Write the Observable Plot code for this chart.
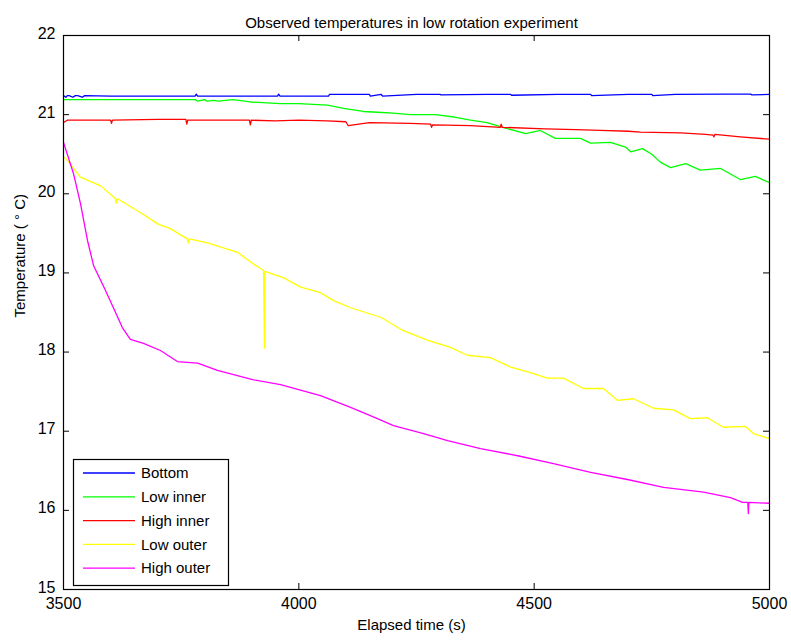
<!DOCTYPE html>
<html><head><meta charset="utf-8">
<script src="https://cdn.jsdelivr.net/npm/d3@7"></script>
<script src="https://cdn.jsdelivr.net/npm/@observablehq/plot@0.6"></script>
<style>
body{margin:0;background:#fff;}
#chart{position:relative;width:791px;height:641px;}
</style></head><body><div id="chart"></div>
<script>
const titleText = "Observed temperatures in low rotation experiment";
const xLabelText = "Elapsed time (s)";
const yLabelText = "Temperature ( \u00B0 C)";
const seriesNames = ["Bottom", "Low inner", "High inner", "Low outer", "High outer"];
const seriesColors = ["#0000ff", "#00ff00", "#ff0000", "#ffff00", "#ff00ff"];
const xTicks = [3500, 4000, 4500, 5000];
const yTicks = [15, 16, 17, 18, 19, 20, 21, 22];

// Bottom
const bottomT = [3500, 3505, 3508, 3512, 3520, 3525, 3530, 3540, 3545, 3600, 3700, 3780, 3782, 3785, 3900, 3955, 3957, 3960, 4063, 4065, 4150, 4152, 4175, 4178, 4250, 4300, 4302, 4400, 4450, 4452, 4550, 4620, 4622, 4700, 4750, 4752, 4800, 4900, 4960, 4962, 5000];
const bottomV = [21.24, 21.22, 21.24, 21.24, 21.22, 21.24, 21.24, 21.22, 21.24, 21.235, 21.235, 21.235, 21.26, 21.235, 21.235, 21.235, 21.26, 21.235, 21.235, 21.255, 21.255, 21.235, 21.255, 21.235, 21.255, 21.255, 21.25, 21.255, 21.255, 21.245, 21.255, 21.255, 21.24, 21.255, 21.255, 21.24, 21.255, 21.26, 21.26, 21.25, 21.255];

// Low inner
const lowInT = [3500, 3600, 3700, 3780, 3785, 3800, 3805, 3820, 3830, 3860, 3897, 3961, 4000, 4061, 4095, 4137, 4167, 4200, 4237, 4290, 4330, 4365, 4400, 4439, 4482, 4513, 4545, 4598, 4620, 4662, 4694, 4705, 4730, 4750, 4768, 4790, 4822, 4853, 4896, 4938, 4970, 5000];
const lowInV = [21.19, 21.19, 21.19, 21.19, 21.17, 21.19, 21.17, 21.18, 21.17, 21.19, 21.16, 21.14, 21.14, 21.12, 21.08, 21.04, 21.03, 21.02, 21.00, 21.00, 20.97, 20.93, 20.90, 20.83, 20.76, 20.80, 20.70, 20.70, 20.64, 20.65, 20.59, 20.53, 20.57, 20.50, 20.40, 20.33, 20.38, 20.30, 20.32, 20.18, 20.22, 20.14];

// High inner
const highInT = [3500, 3508, 3550, 3600, 3602, 3604, 3700, 3760, 3762, 3764, 3850, 3895, 3897, 3899, 3950, 4000, 4060, 4100, 4105, 4150, 4237, 4280, 4282, 4284, 4365, 4428, 4430, 4432, 4524, 4588, 4641, 4700, 4726, 4811, 4864, 4880, 4882, 4884, 4938, 5000];
const highInV = [20.90, 20.93, 20.93, 20.93, 20.89, 20.93, 20.94, 20.94, 20.88, 20.93, 20.93, 20.93, 20.87, 20.93, 20.92, 20.93, 20.92, 20.91, 20.86, 20.90, 20.89, 20.88, 20.84, 20.87, 20.86, 20.84, 20.88, 20.84, 20.82, 20.81, 20.80, 20.79, 20.78, 20.77, 20.75, 20.74, 20.72, 20.75, 20.72, 20.69];

// Low outer
const lowOutT = [3500, 3504, 3536, 3579, 3610, 3612, 3614, 3664, 3700, 3727, 3763, 3765, 3767, 3806, 3870, 3902, 3925, 3927, 3928, 3967, 4004, 4046, 4074, 4110, 4174, 4222, 4273, 4322, 4358, 4407, 4450, 4492, 4528, 4562, 4605, 4647, 4677, 4711, 4754, 4796, 4832, 4868, 4902, 4949, 4966, 4998, 5000];
const lowOutV = [20.46, 20.45, 20.21, 20.10, 19.94, 19.88, 19.94, 19.76, 19.62, 19.56, 19.43, 19.38, 19.43, 19.38, 19.26, 19.12, 19.03, 18.05, 19.02, 18.94, 18.82, 18.75, 18.65, 18.56, 18.44, 18.27, 18.15, 18.06, 17.96, 17.93, 17.81, 17.74, 17.67, 17.67, 17.54, 17.54, 17.39, 17.41, 17.29, 17.27, 17.16, 17.17, 17.05, 17.06, 16.97, 16.91, 16.92];

// High outer
const highOutT = [3500, 3521, 3536, 3551, 3564, 3589, 3606, 3625, 3642, 3670, 3706, 3742, 3785, 3827, 3904, 3961, 4046, 4110, 4167, 4201, 4265, 4316, 4386, 4465, 4541, 4620, 4698, 4775, 4860, 4917, 4943, 4954, 4955, 4956, 4998, 5000];
const highOutV = [20.65, 20.26, 19.88, 19.41, 19.09, 18.78, 18.56, 18.31, 18.16, 18.11, 18.02, 17.88, 17.86, 17.77, 17.65, 17.59, 17.45, 17.30, 17.16, 17.07, 16.97, 16.88, 16.78, 16.69, 16.59, 16.48, 16.39, 16.29, 16.23, 16.16, 16.10, 16.10, 15.96, 16.10, 16.09, 16.09];

const allT = [bottomT, lowInT, highInT, lowOutT, highOutT];
const allV = [bottomV, lowInV, highInV, lowOutV, highOutV];
const rows = [];
seriesNames.forEach((s, i) => allT[i].forEach((t, j) => rows.push({series: s, t, v: allV[i][j]})));

const font = '"Liberation Sans", Arial, sans-serif';
const chart = Plot.plot({
  width: 791, height: 641,
  marginLeft: 63, marginRight: 22, marginTop: 35, marginBottom: 52,
  style: {fontFamily: font, fontSize: "15px", color: "#000", background: "#fff", overflow: "visible"},
  x: {domain: [3500, 5000], label: null},
  y: {domain: [15, 22], label: null},
  color: {domain: seriesNames, range: seriesColors},
  marks: [
    Plot.line(rows, {x: "t", y: "v", z: "series", stroke: "series", strokeWidth: 1.3}),
    Plot.frame({stroke: "#000", strokeWidth: 1.2}),
    Plot.tickX(xTicks, {x: d => d, insetTop: 548, stroke: "#000"}),
    Plot.tickX(xTicks, {x: d => d, insetBottom: 548, stroke: "#000"}),
    Plot.tickY(yTicks, {y: d => d, insetRight: 700, stroke: "#000"}),
    Plot.tickY(yTicks, {y: d => d, insetLeft: 700, stroke: "#000"}),
    Plot.axisX(xTicks, {tickSize: 0, tickPadding: 8, label: null, fontSize: 16, tickFormat: d => String(d)}),
    Plot.axisY(yTicks, {tickSize: 0, tickPadding: 8, label: null, fontSize: 16, dy: -2, tickFormat: d => String(d)}),
    Plot.text([titleText], {text: d => d, frameAnchor: "top", dy: -18, dx: -5, fontSize: 15}),
    Plot.text([xLabelText], {text: d => d, frameAnchor: "bottom", dy: 40, dx: -5, fontSize: 15}),
    Plot.text([yLabelText], {text: d => d, frameAnchor: "left", dx: -43, dy: 5, rotate: -90, fontSize: 15})
  ]
});
document.getElementById("chart").appendChild(chart);

// legend
const svg = d3.select(chart);
const lg = svg.append("g").attr("font-family", font).attr("font-size", 15).attr("text-anchor", "start");
lg.append("rect").attr("x", 73.5).attr("y", 459.5).attr("width", 155).attr("height", 126)
  .attr("fill", "#fff").attr("stroke", "#000").attr("stroke-width", 1.2);
seriesNames.forEach((s, i) => {
  const y = 473 + i * 23.8;
  lg.append("line").attr("x1", 83).attr("x2", 135).attr("y1", y).attr("y2", y)
    .attr("stroke", seriesColors[i]).attr("stroke-width", 1.3);
  lg.append("text").attr("x", 141).attr("y", y).attr("dy", "0.35em").attr("text-anchor", "start").text(s);
});
</script></body></html>
